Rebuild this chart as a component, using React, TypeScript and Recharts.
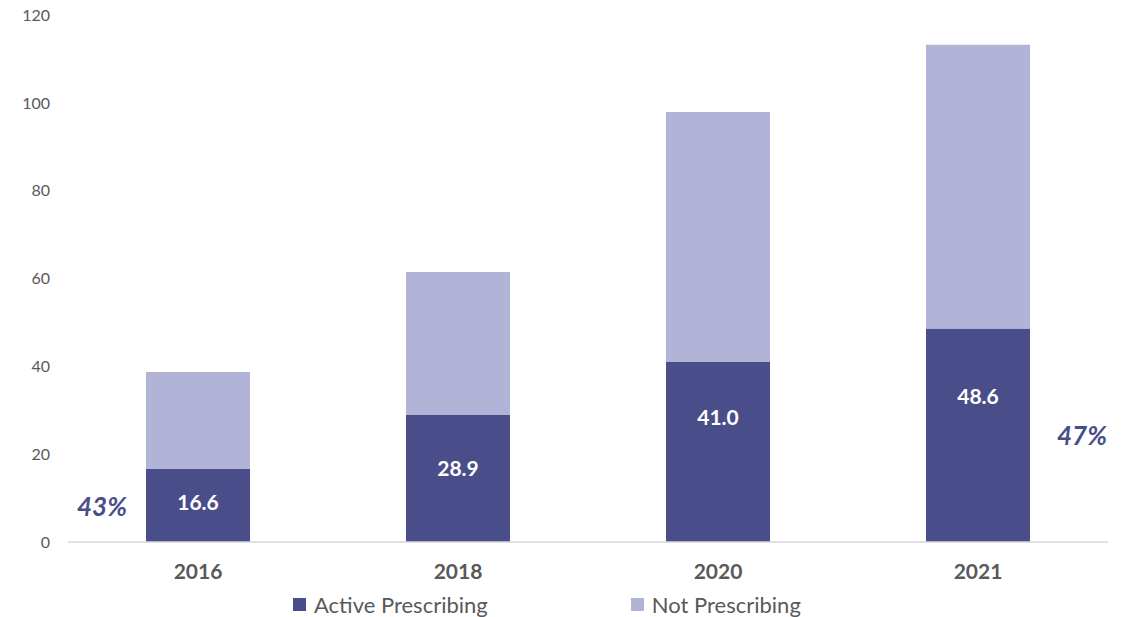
import React from "react";
import { BarChart, Bar, XAxis, YAxis, LabelList } from "recharts";

const years = ["2016", "2018", "2020", "2021"];
const activePrescribing = [16.6, 28.9, 41.0, 48.6];
const notPrescribing = [22.1, 32.6, 56.9, 64.6];
const yTicks = [0, 20, 40, 60, 80, 100, 120];
// share callouts shown beside the first and last bars
const shareLabels = ["43%", "", "", "47%"];

const DARK = "#494E8A";
const LIGHT = "#B1B4D7";
const GRAY = "#595959";
const FONT = "Lato, 'Open Sans', sans-serif";

// hand-placed value labels: distance (px) below the top of each dark bar
const LABEL_DROP = [32, 52, 55, 67];

const data = years.map((year, i) => ({
  year,
  active: activePrescribing[i],
  notActive: notPrescribing[i],
}));

function ActiveLabel(props: any) {
  const { x, y, width, height, value, index } = props;
  const cx = x + width / 2;
  const share = shareLabels[index];
  return (
    <g>
      <text
        x={cx}
        y={y + LABEL_DROP[index]}
        textAnchor="middle"
        dominantBaseline="central"
        fill="#fff"
        fontWeight={700}
        fontSize={21}
        fontFamily={FONT}
      >
        {Number(value).toFixed(1)}
      </text>
      {share && (
        <text
          x={index === 0 ? x - 44 : x + width + 52}
          y={y + height / 2}
          textAnchor="middle"
          dominantBaseline="central"
          fill={DARK}
          fontWeight={700}
          fontStyle="italic"
          fontSize={26}
          fontFamily={FONT}
        >
          {share}
        </text>
      )}
    </g>
  );
}

function LegendRow() {
  const items = [
    { name: "Active Prescribing", color: DARK },
    { name: "Not Prescribing", color: LIGHT },
  ];
  return (
    <div
      style={{
        position: "absolute",
        left: 293,
        top: 591,
        display: "flex",
        gap: 143,
        fontFamily: FONT,
        fontSize: 22,
        color: GRAY,
      }}
    >
      {items.map((it) => (
        <div key={it.name} style={{ display: "flex", alignItems: "center", gap: 8 }}>
          <span style={{ width: 13, height: 13, background: it.color, display: "inline-block" }} />
          <span>{it.name}</span>
        </div>
      ))}
    </div>
  );
}

export default function App() {
  return (
    <div style={{ position: "absolute", left: 0, top: 0, width: 1129, height: 617, background: "#fff" }}>
      <BarChart
        width={1129}
        height={617}
        data={data}
        margin={{ top: 15, right: 21, bottom: 45, left: 0 }}
        barCategoryGap="30%"
      >
        <XAxis
          dataKey="year"
          axisLine={{ stroke: "#D9D9D9", strokeWidth: 1.5 }}
          tickLine={false}
          tickSize={0}
          tickMargin={22}
          tick={{ fill: GRAY, fontSize: 21, fontWeight: 700, fontFamily: FONT }}
        />
        <YAxis
          width={68}
          domain={[0, 120]}
          ticks={yTicks}
          axisLine={false}
          tickLine={false}
          tickSize={0}
          tickMargin={18}
          tick={{ fill: GRAY, fontSize: 16, fontFamily: FONT }}
        />
        <Bar dataKey="active" stackId="a" fill={DARK} isAnimationActive={false}>
          <LabelList dataKey="active" content={<ActiveLabel />} />
        </Bar>
        <Bar dataKey="notActive" stackId="a" fill={LIGHT} isAnimationActive={false} />
      </BarChart>
      <LegendRow />
    </div>
  );
}
